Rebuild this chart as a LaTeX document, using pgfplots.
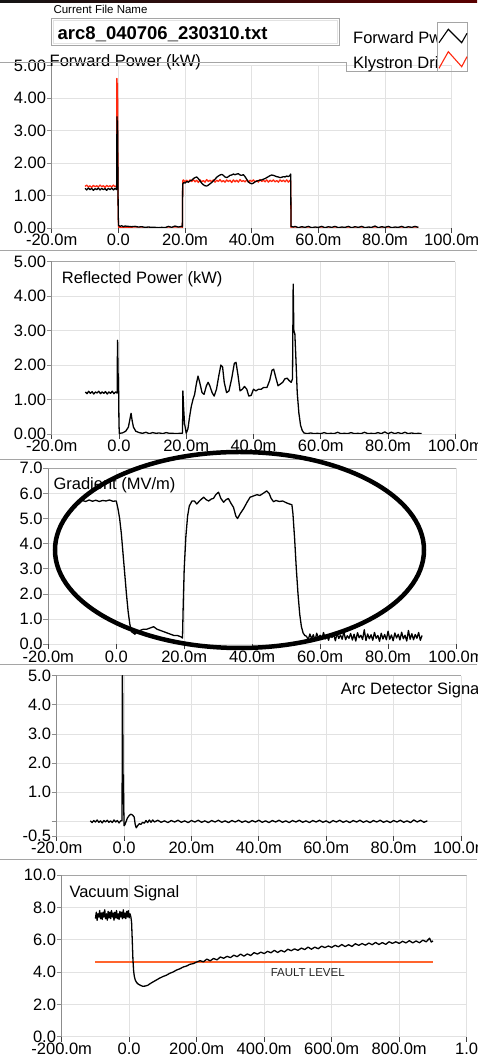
\documentclass[border=0pt]{standalone}
\usepackage{fontspec}
\setmainfont{Liberation Sans}
\usepackage{pgfplots}
\pgfplotsset{compat=1.18}

\definecolor{gridgray}{RGB}{226,226,226}
\definecolor{axisgray}{RGB}{140,140,140}
\definecolor{framegray}{RGB}{165,165,165}
\definecolor{kdrive}{RGB}{255,40,15}
\definecolor{fault}{RGB}{255,100,45}

\newcommand\titlefont{\fontsize{16.5}{16.5}\selectfont}

\pgfplotsset{
  panel/.style={
    scale only axis, anchor=south west,
    axis lines*=left,
    x axis line style={draw=none},
    y axis line style={draw=axisgray, line width=0.9pt},
    tick align=outside,
    major tick length=5pt,
    xtick style={draw=black!75, line width=0.9pt},
    ytick style={draw=axisgray, line width=0.9pt},
    grid=major,
    major grid style={draw=gridgray, line width=0.9pt},
    tick label style={font=\fontsize{16.5}{16.5}\selectfont},
    yticklabel style={inner sep=0.5pt},
    xticklabel style={inner sep=1pt},
  },
  mstime/.style={xmin=-20, xmax=100, xtick={-20,0,20,40,60,80,100},
    xticklabels={-20.0m,0.0,20.0m,40.0m,60.0m,80.0m,100.0m}},
  sig/.style={black, line width=1.3pt, line join=round},
}

\begin{document}
\begin{tikzpicture}
\useasboundingbox (0pt,0pt) rectangle (477pt,1061pt);

% ---------- window chrome ----------
\shade[left color=black!92, right color=red!35!black] (0pt,1058pt) rectangle (477pt,1061pt);
\node[anchor=base west, inner sep=0pt, font=\fontsize{11.5}{11.5}\selectfont] at (53.3pt,1047.7pt) {Current File Name};
\draw[framegray, line width=0.9pt] (51.7pt,1015.3pt) rectangle (339.3pt,1042.7pt);
\draw[gridgray, line width=0.7pt] (53.7pt,1017.3pt) rectangle (337.3pt,1040.7pt);
\node[anchor=base west, inner sep=0pt, font=\bfseries\fontsize{18.5}{18.5}\selectfont] at (57.5pt,1021.7pt) {arc8\_040706\_230310.txt};

% panel separators
\foreach \yy in {810,601,396,201}
  \draw[framegray, line width=1pt] (0pt,\yy pt) -- (477pt,\yy pt);

% ---------- Forward power ----------
\begin{axis}[panel, mstime, at={(51.7pt,833pt)}, width=400pt, height=162.5pt,
  ymin=0, ymax=5, ytick={0,1,2,3,4,5},
  yticklabels={0.00,1.00,2.00,3.00,4.00,5.00}]
\addplot[kdrive, line width=1.3pt, line join=round] coordinates {
(-10,1.28)(-9.5,1.32)(-9,1.26)(-8.5,1.3)(-8,1.25)(-7.5,1.31)(-7,1.27)(-6.5,1.3)
(-6,1.26)(-5.5,1.32)(-5,1.27)(-4.5,1.3)(-4,1.25)(-3.5,1.31)(-3,1.27)(-2.5,1.3)
(-2,1.26)(-1.5,1.32)(-1,1.27)(-0.6,1.3)(-0.5,1.35)(-0.45,4.6)(-0.35,4.2)(-0.25,4.45)
(-0.15,2.2)(-0.05,0.4)(0.05,0.02)(5,0)(10,0)(15,0)(19.2,0)(19.3,1.45)
(19.5,1.48)(20,1.42)(20.5,1.47)(21,1.41)(21.5,1.48)(22,1.43)(22.5,1.49)(23,1.42)
(23.5,1.47)(24,1.4)(24.5,1.48)(25,1.42)(25.5,1.46)(26,1.41)(26.5,1.49)(27,1.43)
(27.5,1.47)(28,1.42)(28.5,1.48)(29,1.41)(29.5,1.47)(30,1.43)(30.5,1.49)(31,1.42)
(31.5,1.46)(32,1.41)(32.5,1.48)(33,1.43)(33.5,1.47)(34,1.4)(34.5,1.48)(35,1.42)
(35.5,1.47)(36,1.41)(36.5,1.49)(37,1.43)(37.5,1.46)(38,1.42)(38.5,1.48)(39,1.41)
(39.5,1.47)(40,1.43)(40.5,1.48)(41,1.42)(41.5,1.46)(42,1.41)(42.5,1.49)(43,1.43)
(43.5,1.47)(44,1.42)(44.5,1.48)(45,1.41)(45.5,1.47)(46,1.43)(46.5,1.48)(47,1.42)
(47.5,1.46)(48,1.41)(48.5,1.48)(49,1.43)(49.5,1.47)(50,1.42)(50.5,1.48)(51,1.41)
(51.5,1.47)(51.7,1.45)(51.8,0)(60,0)(70,0)(80,0)(90,0)};
\addplot[sig] coordinates {
(-10,1.22)(-9.5,1.17)(-9,1.23)(-8.5,1.18)(-8,1.22)(-7.5,1.16)(-7,1.21)(-6.5,1.18)
(-6,1.23)(-5.5,1.17)(-5,1.22)(-4.5,1.18)(-4,1.21)(-3.5,1.16)(-3,1.22)(-2.5,1.18)
(-2,1.23)(-1.5,1.17)(-1,1.22)(-0.6,1.18)(-0.5,1.3)(-0.42,3.42)(-0.35,3.2)(-0.25,3.3)
(-0.15,1.8)(-0.05,0.5)(0.05,0.08)(0.5,0.05)(1,0.07)(1.5,0.04)(2,0.06)(3,0.05)
(4,0.04)(5,0.05)(6,0.03)(7,0.04)(8,0.02)(9,0.03)(10,0.02)(11,0.02)(12,0.01)(13,0.02)
(14,0.01)(15,0.05)(16,0.02)(17,0.06)(18,0.03)(19,0.05)(19.2,0.04)(19.3,1.35)
(19.6,1.4)(20,1.38)(20.5,1.43)(21,1.41)(21.5,1.45)(22,1.47)(22.5,1.52)(23,1.55)
(23.5,1.57)(24,1.52)(24.5,1.45)(25,1.38)(25.5,1.33)(26,1.3)(26.5,1.29)(27,1.32)
(27.5,1.36)(28,1.4)(28.5,1.45)(29,1.5)(29.5,1.56)(30,1.6)(30.5,1.63)(31,1.65)
(31.5,1.62)(32,1.57)(32.5,1.55)(33,1.58)(33.5,1.62)(34,1.63)(34.5,1.66)(35,1.64)
(35.5,1.66)(36,1.67)(36.5,1.63)(37,1.62)(37.5,1.64)(38,1.58)(38.5,1.5)(39,1.42)
(39.5,1.38)(40,1.36)(40.5,1.38)(41,1.42)(41.5,1.44)(42,1.46)(42.5,1.47)(43,1.48)
(43.5,1.5)(44,1.52)(44.5,1.55)(45,1.58)(45.5,1.61)(46,1.63)(46.5,1.62)(47,1.6)
(47.5,1.58)(48,1.57)(48.5,1.55)(49,1.56)(49.5,1.58)(50,1.57)(50.5,1.6)(51,1.58)
(51.5,1.62)(51.7,1.66)(51.8,0.05)(52.5,0.03)(53,0.05)(54,0.01)(55,0.04)(56,0.02)
(57,0.05)(58,0.01)(59,0.03)(60,0.02)(61,0.05)(62,0.01)(63,0.04)(64,0.02)(65,0.05)
(66,0.01)(67,0.03)(68,0.02)(69,0.05)(70,0.01)(71,0.04)(72,0.02)(73,0.05)(74,0.01)
(75,0.03)(76,0.02)(77,0.06)(78,0.01)(79,0.04)(80,0.02)(81,0.05)(82,0.01)(83,0.03)
(84,0.02)(85,0.05)(86,0.01)(87,0.04)(88,0.02)(89,0.05)(90,0.02)};
\end{axis}
\node[anchor=base west, inner sep=0pt, font=\titlefont] at (49.5pt,994.5pt) {Forward Power (kW)};

% legend block
\draw[framegray, line width=0.9pt] (0pt,998.5pt) -- (346.7pt,998.5pt) -- (346.7pt,989.3pt) -- (467.7pt,989.3pt);
\begin{scope}
  \clip (340pt,985pt) rectangle (437.3pt,1045pt);
  \node[anchor=base west, inner sep=0pt, font=\titlefont] at (353pt,1017.7pt) {Forward Pwr};
  \node[anchor=base west, inner sep=0pt, font=\titlefont] at (353pt,992.7pt) {Klystron Drive};
\end{scope}
\draw[framegray, line width=0.9pt] (437.3pt,989.3pt) rectangle (467.7pt,1038.3pt);
\draw[black, line width=1.1pt] (439pt,1018.3pt) -- (448.3pt,1031.7pt) -- (461.7pt,1018.3pt) -- (467pt,1027.7pt);
\draw[kdrive, line width=1.1pt] (439pt,992.7pt) -- (448.3pt,1009.3pt) -- (461.7pt,994.3pt) -- (467pt,1004.3pt);

% ---------- Reflected power ----------
\begin{axis}[panel, mstime, at={(51.7pt,627pt)}, width=403.6pt, height=172.3pt,
  ymin=0, ymax=5, ytick={0,1,2,3,4,5},
  yticklabels={0.00,1.00,2.00,3.00,4.00,5.00}]
\draw[framegray, line width=0.9pt] (rel axis cs:0,1) -- (rel axis cs:1,1);
\addplot[sig] coordinates {
(-10,1.22)(-9.5,1.17)(-9,1.24)(-8.5,1.18)(-8,1.23)(-7.5,1.16)(-7,1.22)(-6.5,1.19)
(-6,1.24)(-5.5,1.17)(-5,1.22)(-4.5,1.18)(-4,1.23)(-3.5,1.16)(-3,1.22)(-2.5,1.18)
(-2,1.24)(-1.5,1.17)(-1,1.22)(-0.6,1.19)(-0.5,1.25)(-0.45,2.72)(-0.35,2.6)(-0.3,1.5)
(-0.2,1.75)(-0.1,1.2)(0,0.3)(0.1,0.02)(1,0.03)(2,0.08)(2.8,0.2)(3.3,0.45)(3.6,0.6)
(3.9,0.4)(4.3,0.2)(5,0.08)(6,0.04)(7,0.02)(8,0.05)(9,0.01)(10,0.04)(11,0.02)(12,0.03)
(13,0.01)(14,0.04)(15,0.02)(16,0.02)(17,0.01)(18,0.02)(18.9,0.02)(19,1.25)(19.2,0.8)
(19.5,0.3)(20,0.02)(20.5,0.15)(21,0.5)(21.5,0.8)(22,1.0)(22.5,1.15)(23,1.45)(23.5,1.68)
(24,1.5)(24.7,1.2)(25.3,1.15)(26,1.4)(26.5,1.5)(27,1.4)(27.7,1.2)(28.3,1.1)(29,1.3)
(29.7,1.7)(30.3,2.0)(30.8,1.95)(31.3,1.5)(32,1.2)(32.7,1.25)(33.5,1.6)(34.3,2.05)
(34.8,2.08)(35.4,1.7)(36,1.25)(36.7,1.3)(37.3,1.38)(38,1.3)(38.6,1.1)(39.3,1.12)
(40,1.3)(40.7,1.25)(41.5,1.3)(42.3,1.3)(43,1.35)(44,1.35)(44.8,1.55)(45.5,1.85)
(46,1.88)(46.6,1.65)(47.3,1.4)(48,1.45)(48.7,1.5)(49.3,1.6)(50,1.62)(50.6,1.55)
(51.2,1.5)(51.6,1.6)(51.8,4.35)(52,3.0)(52.3,2.9)(52.6,2.2)(53,1.2)(53.5,0.6)(54,0.25)
(54.5,0.1)(55,0.03)(56,0.01)(57,0.03)(58,0.01)(59,0.02)(60,0.01)(61,0.04)(62,0.01)
(63,0.02)(64,0.01)(65,0.05)(66,0.01)(67,0.02)(68,0.01)(69,0.04)(70,0.01)(71,0.02)
(72,0.01)(73,0.05)(74,0.01)(75,0.02)(76,0.01)(77,0.04)(78,0.01)(79,0.06)(80,0.01)
(81,0.05)(82,0.01)(83,0.04)(84,0.01)(85,0.05)(86,0.01)(87,0.03)(88,0.01)(89,0.02)(90,0.01)};
\end{axis}
\node[anchor=base west, inner sep=0pt, font=\titlefont] at (61.7pt,777.7pt) {Reflected Power (kW)};

% ---------- Gradient ----------
\begin{axis}[panel, mstime, at={(48.3pt,416.7pt)}, width=407.7pt, height=176pt,
  ymin=0, ymax=7, ytick={0,1,2,3,4,5,6,7},
  yticklabels={0.0,1.0,2.0,3.0,4.0,5.0,6.0,7.0}]
\draw[framegray, line width=0.9pt] (rel axis cs:0,1) -- (rel axis cs:1,1);
\addplot[sig] coordinates {
(-10,5.72)(-9,5.68)(-8,5.74)(-7,5.69)(-6,5.73)(-5,5.68)(-4,5.72)(-3,5.7)(-2,5.74)
(-1,5.69)(0,5.7)(0.5,5.4)(1,5.0)(1.5,4.4)(2,3.6)(2.5,2.8)(3,2.0)(3.5,1.3)(4,0.8)
(4.5,0.5)(5,0.45)(5.5,0.4)(6,0.5)(7,0.55)(8,0.6)(9,0.6)(10,0.65)(11,0.7)(12,0.6)
(13,0.55)(14,0.5)(15,0.45)(16,0.4)(17,0.35)(18,0.35)(19,0.3)(19.5,0.25)(19.7,1.5)
(20,3.0)(20.5,4.3)(21,5.1)(21.5,5.5)(22.3,5.7)(23,5.7)(23.7,5.58)(24.5,5.7)(25.7,5.85)
(26.5,5.75)(27.2,5.7)(28,5.78)(28.6,5.8)(29.3,5.95)(30.1,6.05)(30.8,5.8)(31.6,5.65)
(32.3,5.75)(33,5.8)(33.8,5.6)(34.5,5.45)(35.2,5.1)(35.7,5.0)(36.5,5.2)(37.5,5.4)
(38.5,5.65)(39.4,5.85)(40.4,5.9)(41.4,5.95)(42.3,5.92)(43.2,6.0)(44.3,6.1)(45,6.0)
(45.6,5.8)(46.3,5.67)(47,5.72)(48,5.68)(49,5.7)(50.2,5.62)(51,5.58)(51.7,5.55)
(52,5.2)(52.5,4.2)(53,3.0)(53.5,2.0)(54,1.2)(54.5,0.7)(55,0.45)(55.5,0.35)
(56,0.32)(56.5,0.18)(57,0.41)(57.5,0.22)(58,0.38)(58.5,0.15)(59,0.44)(59.5,0.25)
(60,0.36)(60.5,0.19)(61,0.47)(61.5,0.21)(62,0.35)(62.5,0.16)(63,0.42)(63.5,0.27)
(64,0.39)(64.5,0.14)(65,0.45)(65.5,0.23)(66,0.37)(66.5,0.2)(67,0.5)(67.5,0.18)
(68,0.34)(68.5,0.24)(69,0.43)(69.5,0.17)(70,0.4)(70.5,0.13)(71,0.46)(71.5,0.26)
(72,0.36)(72.5,0.19)(73,0.58)(73.5,0.15)(74,0.41)(74.5,0.22)(75,0.38)(75.5,0.16)
(76,0.47)(76.5,0.24)(77,0.35)(77.5,0.12)(78,0.44)(78.5,0.21)(79,0.39)(79.5,0.18)
(80,0.52)(80.5,0.2)(81,0.37)(81.5,0.14)(82,0.45)(82.5,0.25)(83,0.4)(83.5,0.17)
(84,0.48)(84.5,0.22)(85,0.36)(85.5,0.13)(86,0.55)(86.5,0.2)(87,0.42)(87.5,0.18)
(88,0.39)(88.5,0.24)(89,0.47)(89.5,0.16)(90,0.35)};
\end{axis}
\node[anchor=base west, inner sep=0pt, font=\titlefont] at (53.3pt,571.7pt) {Gradient (MV/m)};

% ---------- Arc detector ----------
\begin{axis}[panel, mstime, at={(56.7pt,225pt)}, width=404.3pt, height=160.3pt,
  ymin=-0.5, ymax=5, ytick={-0.5,0,1,2,3,4,5},
  yticklabels={-0.5,,1.0,2.0,3.0,4.0,5.0}]
\draw[framegray, line width=0.9pt] (rel axis cs:0,1) -- (rel axis cs:1,1);
\addplot[sig] coordinates {
(-10,0.02)(-9.5,-0.04)(-9,0.03)(-8.5,-0.02)(-8,0.05)(-7.5,-0.03)(-7,0.02)(-6.5,-0.05)
(-6,0.03)(-5.5,-0.02)(-5,0.04)(-4.5,-0.03)(-4,0.02)(-3.5,-0.04)(-3,0.05)(-2.5,-0.02)
(-2,0.03)(-1.5,-0.05)(-1,0.02)(-0.6,0.02)(-0.5,5.0)(-0.4,4.0)(-0.3,1.0)(-0.2,1.6)
(-0.1,0.5)(0,-0.15)(0.3,-0.1)(0.6,0.0)(1,0.12)(1.5,0.2)(2,0.25)(2.5,0.22)(3,0.15)
(3.3,-0.1)(3.6,-0.22)(4,-0.15)(4.5,-0.08)(5,-0.1)(5.5,-0.03)(6,-0.06)(6.5,0.03)
(7,-0.04)(7.5,0.05)(8,-0.03)(8.5,0.05)(9,-0.02)(10,0.04)(11,-0.03)(12,0.02)(13,-0.04)
(14,0.03)(15,-0.02)(16,0.04)(17,-0.03)(18,0.02)(19,-0.04)(20,0.03)(21,-0.02)(22,0.04)
(23,-0.03)(24,0.02)(25,-0.04)(26,0.03)(27,-0.02)(28,0.04)(29,-0.03)(30,0.02)(31,-0.04)
(32,0.03)(33,-0.02)(34,0.04)(35,-0.03)(36,0.02)(37,-0.04)(38,0.03)(39,-0.02)(40,0.04)
(41,-0.03)(42,0.02)(43,-0.04)(44,0.03)(45,-0.02)(46,0.04)(47,-0.03)(48,0.02)(49,-0.04)
(50,0.03)(51,-0.02)(52,0.04)(53,-0.03)(54,0.02)(55,-0.04)(56,0.03)(57,-0.02)(58,0.04)
(59,-0.03)(60,0.02)(61,-0.05)(62,0.03)(63,-0.02)(64,0.04)(65,-0.03)(66,0.02)(67,-0.04)
(68,0.03)(69,-0.02)(70,0.04)(71,-0.03)(72,0.02)(73,-0.04)(74,0.03)(75,-0.02)(76,0.04)
(77,-0.03)(78,0.02)(79,-0.04)(80,0.03)(81,-0.02)(82,0.04)(83,-0.03)(84,0.02)(85,-0.04)
(86,0.05)(87,-0.02)(88,0.04)(89,-0.03)(90,0.02)};
\end{axis}
\node[anchor=base west, inner sep=0pt, font=\titlefont] at (340.7pt,366.7pt) {Arc Detector Signal};

% ---------- Vacuum signal ----------
\begin{axis}[panel, at={(61.7pt,24.3pt)}, width=405pt, height=161.7pt,
  xmin=-200, xmax=1000, xtick={-200,0,200,400,600,800,1000},
  xticklabels={-200.0m,0.0,200.0m,400.0m,600.0m,800.0m,1.0},
  ymin=0, ymax=10, ytick={0,2,4,6,8,10},
  yticklabels={0.0,2.0,4.0,6.0,8.0,10.0}]
\draw[framegray, line width=0.9pt] (rel axis cs:0,1) -- (rel axis cs:1,1);
\addplot[fault, line width=1.8pt] coordinates {(-100,4.6)(900,4.6)};
\node[font=\fontsize{11.5}{11.5}\selectfont, text=black!85] at (axis cs:529,3.98) {FAULT LEVEL};
\addplot[sig] coordinates {
(-100,7.3)(-97.5,7.7)(-95,7.2)(-92.5,7.6)(-90,7.4)(-87.5,7.8)(-85,7.3)(-82.5,7.65)
(-80,7.25)(-77.5,7.7)(-75,7.4)(-72.5,7.85)(-70,7.3)(-67.5,7.6)(-65,7.2)(-62.5,7.75)
(-60,7.35)(-57.5,7.7)(-55,7.3)(-52.5,7.8)(-50,7.4)(-47.5,7.65)(-45,7.2)(-42.5,7.7)
(-40,7.35)(-37.5,7.8)(-35,7.3)(-32.5,7.6)(-30,7.25)(-27.5,7.75)(-25,7.4)(-22.5,7.7)
(-20,7.3)(-17.5,7.85)(-15,7.35)(-12.5,7.65)(-10,7.3)(-7.5,7.75)(-5,7.4)(-2.5,7.8)
(0,7.35)(2.5,7.6)(5,7.4)(7,7.1)(9,6.0)(11,4.8)(13,4.1)(15,3.75)(18,3.5)(22,3.35)
(27,3.25)(33,3.18)(40,3.12)(47,3.13)(55,3.18)(62,3.28)(70,3.38)(80,3.5)(90,3.62)
(100,3.72)(110,3.8)(120,3.92)(130,4.0)(140,4.12)(150,4.2)(160,4.31)(170,4.37)
(180,4.48)(190,4.52)(200,4.62)(210,4.70)(220,4.63)(230,4.80)(240,4.69)(250,4.84)
(260,4.75)(270,4.93)(280,4.85)(290,4.97)(300,4.89)(310,5.04)(320,4.95)(330,5.11)
(340,4.98)(350,5.12)(360,5.02)(370,5.20)(380,5.11)(390,5.23)(400,5.14)(410,5.28)
(420,5.19)(430,5.34)(440,5.21)(450,5.34)(460,5.24)(470,5.41)(480,5.32)(490,5.43)
(500,5.34)(510,5.48)(520,5.39)(530,5.54)(540,5.41)(550,5.54)(560,5.44)(570,5.60)
(580,5.51)(590,5.61)(600,5.52)(610,5.65)(620,5.56)(630,5.70)(640,5.57)(650,5.69)
(660,5.58)(670,5.75)(680,5.65)(690,5.76)(700,5.66)(710,5.79)(720,5.69)(730,5.83)
(740,5.70)(750,5.82)(760,5.71)(770,5.87)(780,5.77)(790,5.87)(800,5.77)(810,5.90)
(820,5.80)(830,5.94)(840,5.80)(850,5.92)(860,5.81)(870,5.97)(880,5.87)(890,6.09)
(895,5.85)(900,5.92)};
\end{axis}
\node[anchor=base west, inner sep=0pt, font=\titlefont] at (69.3pt,163.3pt) {Vacuum Signal};

% highlight ring round the gradient trace
\draw[black, line width=4.5pt] (239.5pt,511pt) ellipse [x radius=184.5pt, y radius=98pt];
\end{tikzpicture}
\end{document}
